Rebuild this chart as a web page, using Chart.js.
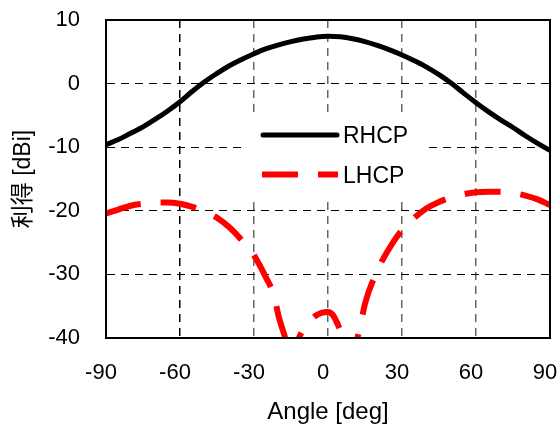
<!DOCTYPE html>
<html>
<head>
<meta charset="utf-8">
<script src="https://cdn.jsdelivr.net/npm/chart.js@4"></script>
<style>
html,body{margin:0;padding:0;background:#fff;}
#wrap{width:558px;height:428px;position:relative;}
</style>
</head>
<body>
<div id="wrap"><canvas id="c" width="558" height="428"></canvas></div>
<script>
const FONT = "'Liberation Sans', Arial, 'Noto Sans CJK JP', sans-serif";

const rhcpAngles = [-90,-85,-80,-75,-70,-65,-60,-55,-50,-45,-40,-35,-30,-25,-20,-15,-10,-5,0,5,10,15,20,25,30,35,40,45,50,55,60,65,70,75,80,85,90];
const rhcpGain   = [-9.6,-8.8,-7.8,-6.8,-5.6,-4.3,-2.85,-1.2,0.3,1.6,2.8,3.8,4.7,5.5,6.1,6.6,7.0,7.3,7.45,7.35,7.05,6.6,6.0,5.3,4.5,3.6,2.6,1.4,0.05,-1.5,-3.0,-4.4,-5.7,-6.9,-8.2,-9.4,-10.5];

const lhcpAngles = [-90,-85,-80,-75,-70,-65,-60,-55,-50,-45,-40,-35,-30,-25,-22,-20,-17,-15,-12,-10,-5,0,2,5,9,13,15,20,25,30,35,40,45,50,55,60,65,70,75,80,85,90];
const lhcpGain   = [-20.4,-19.8,-19.2,-18.9,-18.7,-18.7,-18.9,-19.4,-20.1,-21.1,-22.6,-24.6,-27.0,-30.6,-33.2,-36.6,-40.5,-44,-40.2,-38.7,-36.5,-35.9,-36.4,-38.8,-43,-38.3,-34.6,-29.4,-25.8,-23.0,-21.1,-19.6,-18.6,-17.9,-17.4,-17.1,-17.0,-17.0,-17.2,-17.6,-18.2,-19.1];

const seriesNames = ['RHCP','LHCP'];
const xTicks = [-90,-60,-30,0,30,60,90];
const yTicks = [-40,-30,-20,-10,0,10];
const xTitle = 'Angle [deg]';
const yTitle = '利得 [dBi]';

const pts = (xs, ys) => xs.map((x,i)=>({x:x, y:ys[i]}));

const legendPlugin = {
  id: 'boxLegend',
  beforeDatasetsDraw(chart){
    const ctx = chart.ctx;
    ctx.save();
    ctx.fillStyle = '#fff';
    ctx.fillRect(245, 115, 180, 83);
    ctx.restore();
  },
  afterDatasetsDraw(chart){
    const ctx = chart.ctx, a = chart.chartArea;
    ctx.save();
    ctx.strokeStyle = '#000';
    ctx.lineWidth = 2;
    ctx.strokeRect(a.left, a.top, a.right - a.left, a.bottom - a.top);
    const ds = chart.data.datasets;
    const rows = [135, 174.5];
    ctx.font = "23px " + FONT;
    ctx.textBaseline = 'middle';
    ctx.textAlign = 'left';
    ds.forEach((d, i) => {
      ctx.beginPath();
      ctx.strokeStyle = d.borderColor;
      ctx.lineWidth = d.borderWidth;
      ctx.lineCap = d.borderCapStyle || 'butt';
      ctx.setLineDash(d.borderDash || []);
      if (i === 0) { ctx.moveTo(263, rows[i]); ctx.lineTo(337, rows[i]); }
      else { ctx.moveTo(262, rows[i]); ctx.lineTo(338, rows[i]); }
      ctx.stroke();
      ctx.setLineDash([]);
      ctx.fillStyle = '#000';
      ctx.fillText(d.label, 343, rows[i] + 2);
    });
    ctx.restore();
  }
};

function zeroPad(s){ s.paddingTop = 0; s.paddingBottom = 0; s.paddingLeft = 0; s.paddingRight = 0; }

new Chart(document.getElementById('c'), {
  type: 'line',
  data: {
    datasets: [
      { label: seriesNames[0], data: pts(rhcpAngles, rhcpGain), borderColor: '#000', borderWidth: 5,
        borderCapStyle: 'round', borderJoinStyle: 'round', pointRadius: 0, tension: 0.4, fill: false },
      { label: seriesNames[1], data: pts(lhcpAngles, lhcpGain), borderColor: '#ff0000', borderWidth: 6,
        borderDash: [36, 20], borderCapStyle: 'butt', pointRadius: 0, cubicInterpolationMode: 'monotone', fill: false }
    ]
  },
  options: {
    responsive: false,
    animation: false,
    events: [],
    layout: { padding: { top: 20, right: 8, left: 0, bottom: 0 } },
    plugins: { legend: { display: false }, tooltip: { enabled: false } },
    scales: {
      x: {
        type: 'linear', min: -90, max: 90,
        afterBuildTicks: s => { s.ticks = xTicks.map(v => ({ value: v })); },
        afterFit: s => { s.height = 90; zeroPad(s); },
        ticks: { color: '#000', font: { family: FONT, size: 22 }, padding: 22, labelOffset: -5, maxRotation: 0 },
        grid: { drawTicks: false, lineWidth: 1.5,
          color: c => (c.tick && (c.tick.value === -90 || c.tick.value === 90)) ? 'rgba(0,0,0,0)' : (c.tick && c.tick.value === -60 ? '#000' : '#666') },
        border: { display: true, color: '#000', width: 2, dash: [8, 6] },
        title: { display: true, text: xTitle, color: '#000', font: { family: FONT, size: 24 }, padding: { top: 0, bottom: 1 } }
      },
      y: {
        type: 'linear', min: -40, max: 10,
        afterBuildTicks: s => { s.ticks = yTicks.map(v => ({ value: v })); },
        afterFit: s => { s.width = 106; zeroPad(s); },
        ticks: { color: '#000', font: { family: FONT, size: 22 }, padding: 26 },
        grid: { drawTicks: false, lineWidth: 1,
          color: c => (c.tick && (c.tick.value === -40 || c.tick.value === 10)) ? 'rgba(0,0,0,0)' : '#000' },
        border: { display: true, color: '#000', width: 2, dash: [8, 6] },
        title: { display: true, text: yTitle, color: '#000', font: { family: FONT, size: 23 }, padding: { top: 10, bottom: 0 } }
      }
    }
  },
  plugins: [legendPlugin]
});
</script>
</body>
</html>
